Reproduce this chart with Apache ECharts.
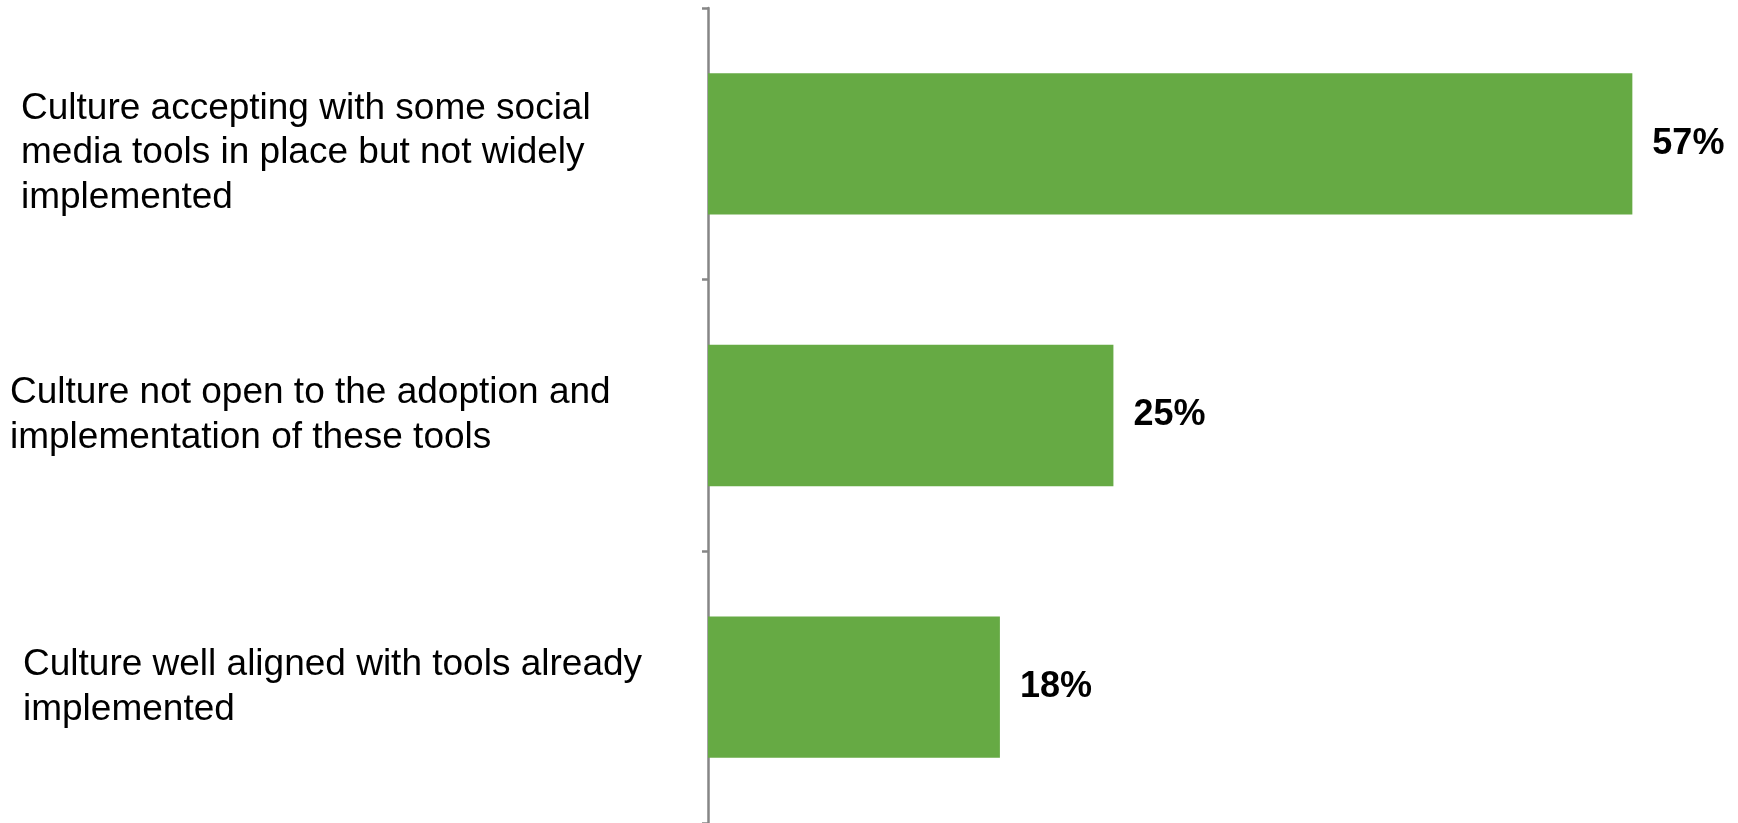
<!DOCTYPE html>
<html>
<head>
<meta charset="utf-8">
<script src="https://cdn.jsdelivr.net/npm/echarts@6/dist/echarts.min.js"></script>
<style>
html,body{margin:0;padding:0;background:#fff;}
#c{width:1738px;height:823px;}
</style>
</head>
<body>
<div id="c"></div>
<script>
const categories = [
  "Culture accepting with some social\nmedia tools in place but not widely\nimplemented",
  "Culture not open to the adoption and\nimplementation of these tools",
  "Culture well aligned with tools already\nimplemented"
];
const values = [57, 25, 18];
const labelIndent = [11, 0, 13];
const labelGap = [18, 0, 0];

const chart = echarts.init(document.getElementById('c'), null, {renderer: 'canvas'});
const rich = {};
labelGap.forEach((g, i) => { rich['gap' + i] = {fontSize: 1, lineHeight: g}; });
chart.setOption({
  animation: false,
  backgroundColor: '#ffffff',
  grid: {left: 708, right: 57, top: 8, bottom: 0, containLabel: false, outerBoundsMode: 'none'},
  xAxis: {
    type: 'value', min: 0, max: 60, show: false
  },
  yAxis: {
    type: 'category',
    inverse: true,
    data: categories.map((c, i) => ({value: c, textStyle: {padding: [0, 0, 0, labelIndent[i]], align: 'left'}})),
    axisLine: {show: true, lineStyle: {color: '#868686', width: 2.5}},
    axisTick: {show: true, length: 6, alignWithLabel: false, lineStyle: {color: '#868686', width: 2.5}},
    axisLabel: {
      margin: 698,
      align: 'left',
      color: '#000000',
      fontFamily: '"Liberation Sans", Arial, sans-serif',
      fontSize: 37,
      lineHeight: 44.5,
      formatter: function (value, index) {
        return labelGap[index] > 0 ? '{gap' + index + '| }\n' + value : value;
      },
      rich: rich
    },
    splitLine: {show: false}
  },
  series: [{
    type: 'bar',
    data: values,
    barCategoryGap: '48%',
    itemStyle: {color: '#66aa44'},
    label: {
      show: true,
      position: 'right',
      distance: 20,
      formatter: '{c}%',
      color: '#000000',
      fontWeight: 'bold',
      fontFamily: '"Liberation Sans", Arial, sans-serif',
      fontSize: 36
    }
  }]
});
</script>
</body>
</html>
